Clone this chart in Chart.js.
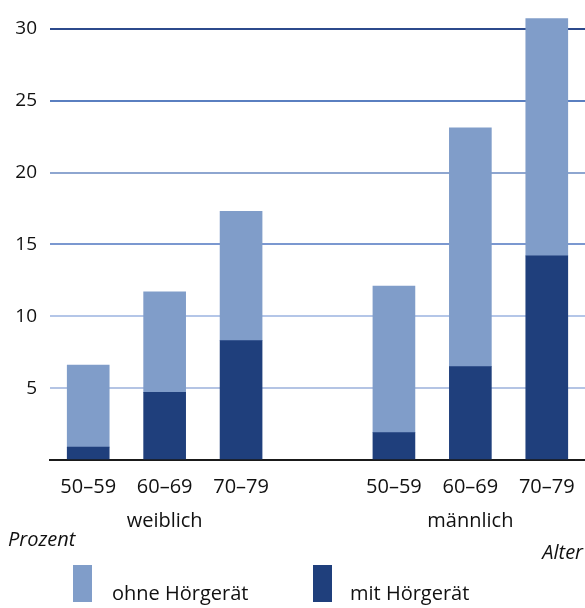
<!DOCTYPE html>
<html>
<head>
<meta charset="utf-8">
<script src="https://cdn.jsdelivr.net/npm/chart.js@4"></script>
<style>
  html, body { margin: 0; padding: 0; background: #fff; }
  #wrap { width: 585px; height: 608px; position: relative; }
</style>
</head>
<body>
<div id="wrap"><canvas id="c" width="585" height="608"></canvas></div>
<script>
// ---- data ----
const ageGroups = ["50–59", "60–69", "70–79", "", "50–59", "60–69", "70–79"];
const sexLabels = ["", "weiblich", "", "", "", "männlich", ""];
const mitHoergeraet = [0.9, 4.7, 8.3, null, 1.9, 6.5, 14.2];
const ohneHoergeraet = [5.7, 7.0, 9.0, null, 10.2, 16.6, 16.5];
const yTicks = [5, 10, 15, 20, 25, 30];
const seriesNames = ["ohne Hörgerät", "mit Hörgerät"];
const yAxisTitle = "Prozent";
const xAxisTitle = "Alter";

const LIGHT = "#809dc9";
const DARK = "#1f3f7c";
const FONT = "'Open Sans', 'DejaVu Sans', sans-serif";
const gridColors = {30: "#2c4a8c", 25: "#5a7fc0", 20: "#8ea6d0", 15: "#7b98d0", 10: "#b4c6e8", 5: "#b4c4e4"};

const labels = ageGroups.map((a, i) => [a, sexLabels[i]]);

const extrasPlugin = {
  id: "extras",
  afterDraw(chart) {
    const ctx = chart.ctx;
    ctx.save();
    ctx.fillStyle = "#111";
    ctx.textBaseline = "alphabetic";
    ctx.font = "italic 20px " + FONT;
    ctx.textAlign = "left";
    ctx.fillText(yAxisTitle, 8, 546);
    ctx.textAlign = "right";
    ctx.fillText(xAxisTitle, 583, 559);
    // legend
    const items = [
      {name: seriesNames[0], color: chart.data.datasets[1].backgroundColor, bx: 73, tx: 112},
      {name: seriesNames[1], color: chart.data.datasets[0].backgroundColor, bx: 313, tx: 350}
    ];
    ctx.font = "20px " + FONT;
    ctx.textAlign = "left";
    items.forEach(it => {
      ctx.fillStyle = it.color;
      ctx.fillRect(it.bx, 565, 19, 37);
      ctx.fillStyle = "#111";
      ctx.fillText(it.name, it.tx, 600);
    });
    ctx.restore();
  }
};

new Chart(document.getElementById("c"), {
  type: "bar",
  data: {
    labels: labels,
    datasets: [
      { label: seriesNames[1], data: mitHoergeraet, backgroundColor: DARK, barThickness: 42, borderWidth: 0 },
      { label: seriesNames[0], data: ohneHoergeraet, backgroundColor: LIGHT, barThickness: 42, borderWidth: 0 }
    ]
  },
  options: {
    responsive: false,
    animation: false,
    layout: { padding: { top: 0, right: 0, left: 0, bottom: 0 } },
    plugins: {
      legend: { display: false },
      tooltip: { enabled: false }
    },
    scales: {
      x: {
        stacked: true,
        grid: { display: false, drawTicks: false },
        border: { display: true, color: "#1a1a1a", width: 2 },
        ticks: {
          color: "#111",
          font: { family: FONT, size: 20, lineHeight: 1.7 },
          padding: 10,
          maxRotation: 0,
          autoSkip: false
        },
        afterFit(scale) { scale.height = 148; scale.paddingLeft = 0; scale.paddingRight = 0; }
      },
      y: {
        stacked: true,
        min: 0,
        max: 32,
        grid: {
          drawTicks: false,
          lineWidth: 2,
          color: ctx => (ctx.tick && gridColors[ctx.tick.value]) || "rgba(0,0,0,0)"
        },
        border: { display: false },
        afterBuildTicks(scale) {
          scale.ticks = [0].concat(yTicks).map(v => ({ value: v }));
        },
        ticks: {
          color: "#111",
          font: { family: FONT, size: 19 },
          padding: 13,
          callback: v => (v === 0 ? "" : String(v))
        },
        afterFit(scale) { scale.width = 50; scale.paddingTop = 0; scale.paddingBottom = 0; }
      }
    }
  },
  plugins: [extrasPlugin]
});
</script>
</body>
</html>
